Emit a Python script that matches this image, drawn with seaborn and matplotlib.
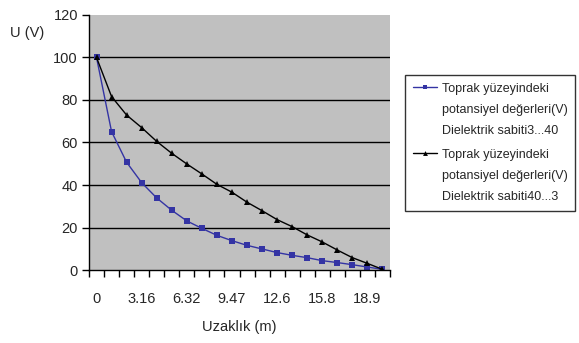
import pandas as pd
import matplotlib
matplotlib.use("Agg")
import matplotlib.pyplot as plt
import seaborn as sns

# Distance categories (m) and potential values (V)
distance = [0, 1.05, 2.11, 3.16, 4.21, 5.26, 6.32, 7.37, 8.42, 9.47,
            10.5, 11.6, 12.6, 13.7, 14.7, 15.8, 16.8, 17.9, 18.9, 20.0]
tick_labels = ["0", "3.16", "6.32", "9.47", "12.6", "15.8", "18.9"]
u_3_40 = [100, 65.1, 50.7, 41.1, 33.9, 28.1, 23.1, 19.6, 16.3, 13.8,
          11.6, 9.9, 8.2, 6.9, 5.8, 4.4, 3.5, 2.5, 1.4, 0.3]
u_40_3 = [100, 81.6, 72.9, 67.0, 60.5, 54.9, 49.9, 45.2, 40.3, 36.6,
          31.9, 27.9, 23.7, 20.4, 16.5, 13.2, 9.4, 5.8, 3.1, 0.3]
series_names = ["Toprak yüzeyindeki\npotansiyel değerleri(V)\nDielektrik sabiti3...40",
                "Toprak yüzeyindeki\npotansiyel değerleri(V)\nDielektrik sabiti40...3"]

sns.set_theme(style="white")
plt.rcParams['font.family'] = ['Liberation Sans', 'DejaVu Sans']

df = pd.DataFrame({
    "idx": list(range(len(distance))) * 2,
    "U": u_3_40 + u_40_3,
    "series": [series_names[0]] * len(distance) + [series_names[1]] * len(distance),
})

fig = plt.figure(figsize=(5.79, 3.43), dpi=100)
ax = fig.add_axes([0.1537, 0.2128, 0.5199, 0.7435])
ax.set_facecolor("#c0c0c0")

sns.lineplot(data=df, x="idx", y="U", hue="series", style="series",
             palette=["#3434a4", "black"], markers=["s", "^"], dashes=False,
             markersize=5, linewidth=1, markeredgewidth=0, ax=ax)

ax.set_xlim(-0.5, len(distance) - 0.5)
ax.set_ylim(0, 120)
for y in [20, 40, 60, 80, 100]:
    ax.axhline(y, color="black", linewidth=1, zorder=0.5)

# tick marks between categories, labels every third category
ax.set_xticks([k - 0.5 for k in range(len(distance) + 1)])
ax.set_xticklabels([])
ax.set_xticks(list(range(0, len(distance), 3)), minor=True)
ax.set_xticklabels(tick_labels, minor=True)
ax.tick_params(axis="x", which="major", direction="out", length=5, width=1, color="black", bottom=True)
ax.tick_params(axis="x", which="minor", length=0, pad=16, labelsize=10.5)
ax.set_yticks([0, 20, 40, 60, 80, 100, 120])
ax.tick_params(axis="y", direction="out", length=5, width=1, color="black", left=True, labelsize=10.5, pad=3)

for side in ["top", "right"]:
    ax.spines[side].set_visible(False)
for side in ["left", "bottom"]:
    ax.spines[side].set_color("black")
    ax.spines[side].set_linewidth(1)

ax.set_xlabel("Uzaklık (m)", fontsize=10.5, labelpad=10)
ax.set_ylabel("")
fig.text(0.017, 0.905, "U (V)", fontsize=10.5, ha="left", va="center")

leg = ax.legend(loc="upper left", bbox_to_anchor=(0.699, 0.782), bbox_transform=fig.transFigure,
                frameon=True, fancybox=False, fontsize=9, handlelength=1.9,
                borderpad=0.65, borderaxespad=0, labelspacing=0.95, handletextpad=0.4,
                markerscale=0.7)
leg.get_frame().set_edgecolor("black")
leg.get_frame().set_linewidth(1)
leg.get_frame().set_facecolor("white")
for t in leg.get_texts():
    t.set_linespacing(2.0)
# handle sits on the first text line, as in the original
for column in leg._legend_handle_box.get_children():
    for item in column.get_children():
        item.align = "top"

fig.savefig("out.png", dpi=100)
